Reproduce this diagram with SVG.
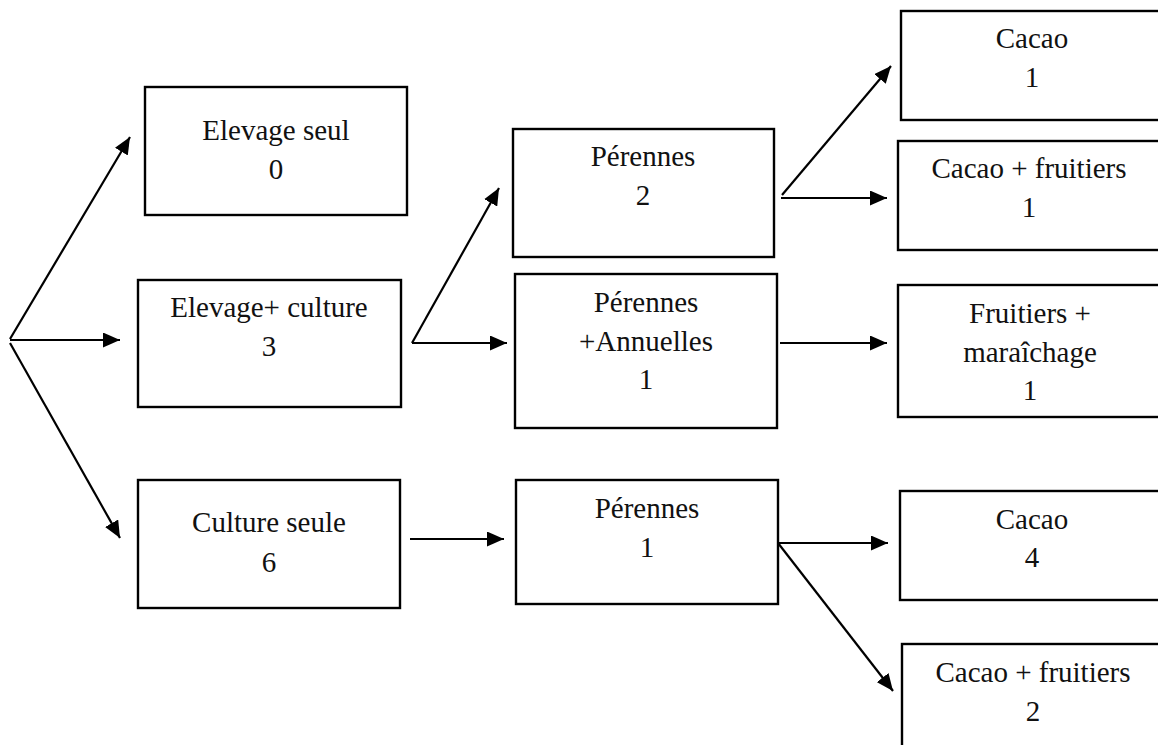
<svg xmlns="http://www.w3.org/2000/svg" width="1158" height="745" viewBox="0 0 1158 745">
  <style>
    .box { fill: #ffffff; stroke: #000000; stroke-width: 2.4; }
    .lbl { font-size: 29px; fill: #111111; text-anchor: middle; }
    .link { fill: none; stroke: #000000; stroke-width: 2.2; marker-end: url(#head); }
  </style>
  <defs>
    <marker id="head" viewBox="0 0 17 15" refX="17" refY="7.5" markerWidth="17" markerHeight="15" markerUnits="userSpaceOnUse" orient="auto">
      <path d="M0,0 L17,7.5 L0,15 z" fill="#000000"/>
    </marker>
  </defs>
  <rect width="1158" height="745" fill="#ffffff"/>

  <g font-family="Liberation Serif, Tinos, Times New Roman, Times, DejaVu Serif, serif">
  <!-- first level -->
  <g id="elevage-seul">
    <rect class="box" x="145" y="87" width="262" height="128"/>
    <text class="lbl" x="276" y="140">Elevage seul</text>
    <text class="lbl" x="276" y="179">0</text>
  </g>
  <g id="elevage-culture">
    <rect class="box" x="138" y="280" width="263" height="127"/>
    <text class="lbl" x="269" y="317">Elevage+ culture</text>
    <text class="lbl" x="269" y="356">3</text>
  </g>
  <g id="culture-seule">
    <rect class="box" x="138" y="480" width="262" height="128"/>
    <text class="lbl" x="269" y="532">Culture seule</text>
    <text class="lbl" x="269" y="572">6</text>
  </g>

  <!-- second level -->
  <g id="perennes-a">
    <rect class="box" x="513" y="129" width="261" height="128"/>
    <text class="lbl" x="643" y="166">Pérennes</text>
    <text class="lbl" x="643" y="205">2</text>
  </g>
  <g id="perennes-annuelles">
    <rect class="box" x="515" y="274" width="262" height="154"/>
    <text class="lbl" x="646" y="312">Pérennes</text>
    <text class="lbl" x="646" y="351">+Annuelles</text>
    <text class="lbl" x="646" y="389">1</text>
  </g>
  <g id="perennes-b">
    <rect class="box" x="516" y="480" width="262" height="124"/>
    <text class="lbl" x="647" y="518">Pérennes</text>
    <text class="lbl" x="647" y="557">1</text>
  </g>

  <!-- third level -->
  <g id="cacao-a">
    <rect class="box" x="901" y="11" width="270" height="109"/>
    <text class="lbl" x="1032" y="48">Cacao</text>
    <text class="lbl" x="1032" y="87">1</text>
  </g>
  <g id="cacao-fruitiers-a">
    <rect class="box" x="898" y="141" width="270" height="109"/>
    <text class="lbl" x="1029" y="178">Cacao + fruitiers</text>
    <text class="lbl" x="1029" y="217">1</text>
  </g>
  <g id="fruitiers-maraichage">
    <rect class="box" x="898" y="285" width="270" height="132"/>
    <text class="lbl" x="1030" y="323">Fruitiers +</text>
    <text class="lbl" x="1030" y="362">maraîchage</text>
    <text class="lbl" x="1030" y="400">1</text>
  </g>
  <g id="cacao-b">
    <rect class="box" x="900" y="491" width="270" height="109"/>
    <text class="lbl" x="1032" y="529">Cacao</text>
    <text class="lbl" x="1032" y="567">4</text>
  </g>
  <g id="cacao-fruitiers-b">
    <rect class="box" x="902" y="644" width="270" height="110"/>
    <text class="lbl" x="1033" y="682">Cacao + fruitiers</text>
    <text class="lbl" x="1033" y="721">2</text>
  </g>
  </g>

  <!-- connectors -->
  <g id="connectors">
    <line class="link" x1="10" y1="339" x2="130" y2="137"/>
    <line class="link" x1="10" y1="340" x2="120" y2="340"/>
    <line class="link" x1="10" y1="343" x2="120" y2="538"/>
    <line class="link" x1="412" y1="343" x2="499" y2="188"/>
    <line class="link" x1="412" y1="343" x2="507" y2="343"/>
    <line class="link" x1="410" y1="539" x2="504" y2="539"/>
    <line class="link" x1="782" y1="195" x2="891" y2="66"/>
    <line class="link" x1="781" y1="198" x2="887" y2="198"/>
    <line class="link" x1="780" y1="343" x2="887" y2="343"/>
    <line class="link" x1="778" y1="543" x2="888" y2="543"/>
    <line class="link" x1="778" y1="543" x2="893" y2="691"/>
  </g>
</svg>
